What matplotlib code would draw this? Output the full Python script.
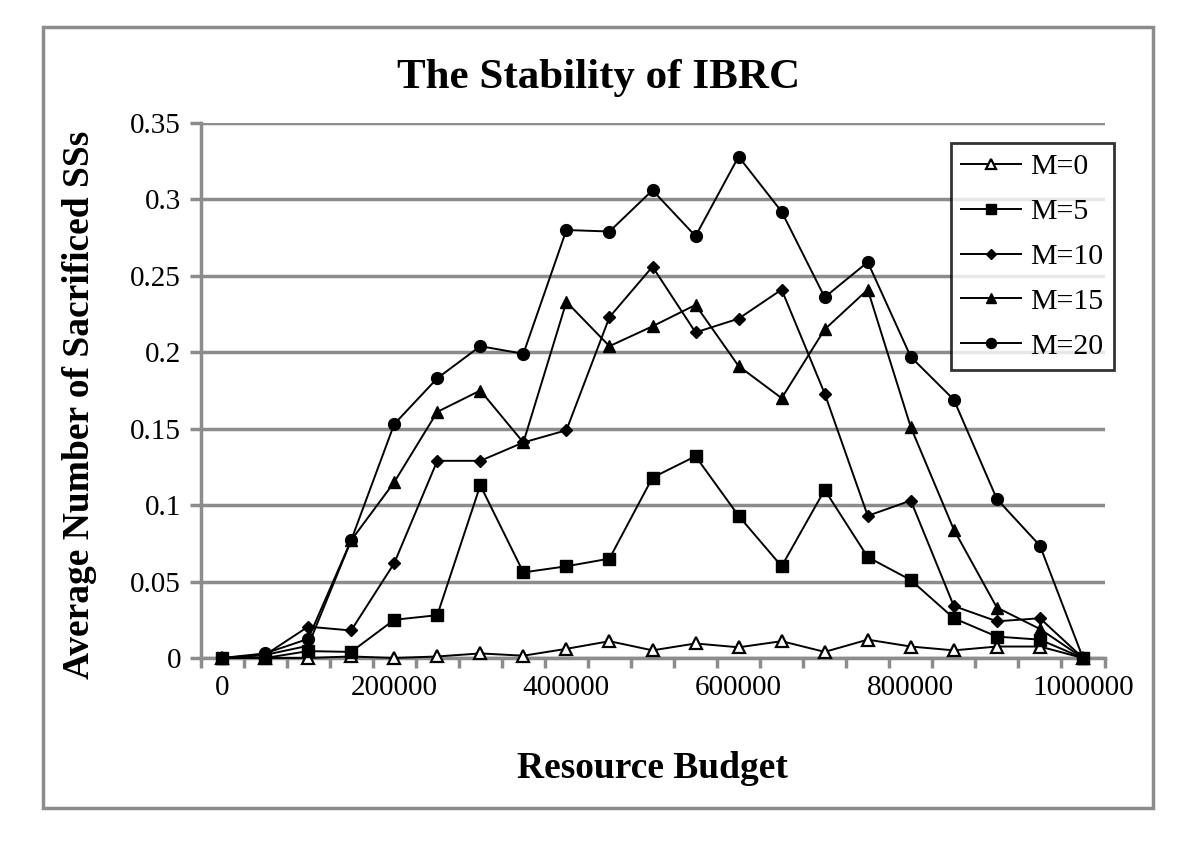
import matplotlib
matplotlib.use("Agg")
import matplotlib.pyplot as plt
from matplotlib.patches import Rectangle
import numpy as np

budgets = [0, 50000, 100000, 150000, 200000, 250000, 300000, 350000, 400000, 450000,
           500000, 550000, 600000, 650000, 700000, 750000, 800000, 850000, 900000, 950000, 1000000]

m0 = [0, 0, 0, 0.001, 0, 0.001, 0.003, 0.0015, 0.006, 0.011, 0.005, 0.0095, 0.007, 0.011,
      0.004, 0.012, 0.0075, 0.005, 0.0075, 0.0075, 0]
m5 = [0, 0, 0.0045, 0.004, 0.025, 0.028, 0.113, 0.056, 0.060, 0.065, 0.118, 0.132, 0.093,
      0.060, 0.110, 0.066, 0.051, 0.026, 0.014, 0.012, 0]
m10 = [0, 0.002, 0.0205, 0.018, 0.062, 0.129, 0.129, 0.141, 0.149, 0.223, 0.256, 0.213,
       0.222, 0.241, 0.173, 0.093, 0.103, 0.034, 0.024, 0.026, 0]
m15 = [0, 0.002, 0.008, 0.077, 0.115, 0.161, 0.175, 0.141, 0.233, 0.204, 0.217, 0.231,
       0.191, 0.170, 0.215, 0.241, 0.151, 0.084, 0.033, 0.019, 0]
m20 = [0, 0.003, 0.0125, 0.077, 0.153, 0.183, 0.204, 0.199, 0.280, 0.279, 0.306, 0.276,
       0.328, 0.292, 0.236, 0.259, 0.197, 0.169, 0.104, 0.0735, 0]

series = [("M=0", m0), ("M=5", m5), ("M=10", m10), ("M=15", m15), ("M=20", m20)]
styles = {
    "M=0": dict(marker="^", markerfacecolor="white", markeredgecolor="black", markersize=8, markeredgewidth=1.6),
    "M=5": dict(marker="s", markerfacecolor="black", markeredgecolor="black", markersize=8),
    "M=10": dict(marker="D", markerfacecolor="black", markeredgecolor="black", markersize=6),
    "M=15": dict(marker="^", markerfacecolor="black", markeredgecolor="black", markersize=8.5),
    "M=20": dict(marker="o", markerfacecolor="black", markeredgecolor="black", markersize=8.5),
}

serif = ["Liberation Serif", "DejaVu Serif"]
plt.rcParams["font.family"] = serif

fig = plt.figure(figsize=(12, 8.42), dpi=100)
ax = fig.add_axes([200.5 / 1200, 1 - 658 / 842, (1104.5 - 200.5) / 1200, (658 - 123) / 842])

# Outer border
fig.patches.append(Rectangle((43 / 1200, 1 - 808 / 842), (1153 - 43) / 1200, (808 - 27) / 842,
                             transform=fig.transFigure, fill=False, edgecolor="#8c8c8c",
                             linewidth=2.5, zorder=0))

idx = np.arange(len(budgets))
for name, vals in series:
    ax.plot(idx, vals, color="black", linewidth=1.4, label=name, clip_on=False, zorder=3,
            **styles[name])

ax.set_xlim(-0.5, len(budgets) - 0.5)
ax.set_ylim(0, 0.35)
yt = np.arange(0, 0.351, 0.05)
ax.set_yticks(yt)
ax.set_yticklabels(["0", "0.05", "0.1", "0.15", "0.2", "0.25", "0.3", "0.35"], fontsize=21)
ax.yaxis.grid(True, color="#8c8c8c", linewidth=2.5)
ax.set_axisbelow(True)

major_idx = idx[::4]
ax.set_xticks(major_idx)
ax.set_xticklabels([str(budgets[i]) for i in major_idx], fontsize=21)
ax.tick_params(axis="x", which="major", length=0, pad=12)
ax.set_xticks(np.arange(-0.5, len(budgets) - 0.4, 1.0), minor=True)
ax.tick_params(axis="x", which="minor", length=7, width=2.5, color="#8c8c8c", direction="out")
ax.tick_params(axis="y", length=8, width=2.5, color="#8c8c8c", direction="out", pad=6)

for s in ["top", "right"]:
    ax.spines[s].set_visible(False)
for s in ["left", "bottom"]:
    ax.spines[s].set_color("#8c8c8c")
    ax.spines[s].set_linewidth(2.5)

fig.text(599 / 1200, 1 - 78 / 842, "The Stability of IBRC", ha="center", va="center",
         fontsize=31, fontweight="bold")
fig.text(652 / 1200, 1 - 768 / 842, "Resource Budget", ha="center", va="center",
         fontsize=27, fontweight="bold")
fig.text(80 / 1200, 1 - 405 / 842, "Average Number of Sacrificed SSs", ha="center", va="center",
         rotation=90, fontsize=27, fontweight="bold")

leg = ax.legend(loc="upper left", bbox_to_anchor=((951 - 200.5) / 904, (658 - 143) / 535),
                fontsize=21.5, frameon=True, fancybox=False, edgecolor="black",
                handlelength=2.0, borderpad=0.35, labelspacing=0.6, handletextpad=0.3,
                borderaxespad=0, markerscale=0.85)
leg.get_frame().set_linewidth(2.0)

fig.savefig("out.png", dpi=100)
